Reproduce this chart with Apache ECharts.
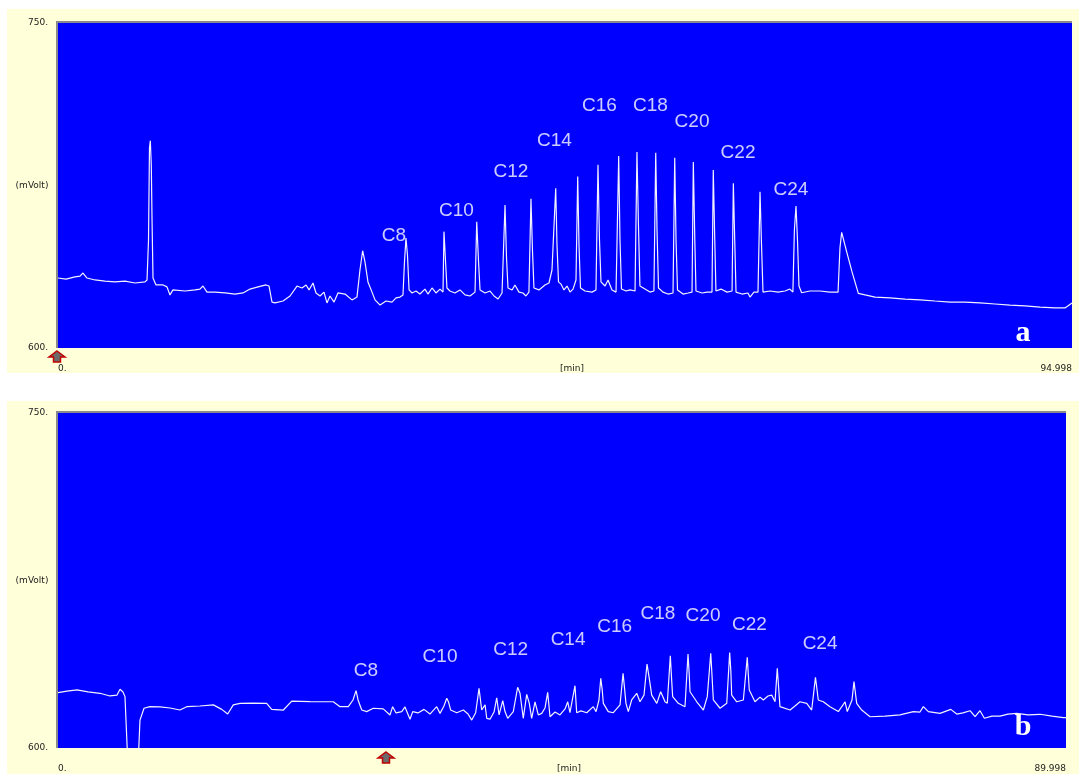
<!DOCTYPE html>
<html><head><meta charset="utf-8">
<script src="https://cdn.jsdelivr.net/npm/echarts@6/dist/echarts.min.js"></script>
<style>html,body{margin:0;padding:0;background:#fff}#c{width:1079px;height:774px}</style>
</head><body><div id="c"></div><script>
// ---- Panel a (standard) ----
const aTime = [0,0.75,1.59,2.06,2.34,2.72,3.47,4.40,5.34,6.28,7.21,8.15,8.34,8.48,8.57,8.65,8.74,8.81,8.90,9.18,9.84,10.21,10.49,10.77,11.90,12.84,13.30,13.58,13.96,14.71,15.65,16.58,17.33,17.99,18.74,19.49,19.77,20.05,20.33,21.08,21.74,22.39,22.86,23.24,23.52,23.89,24.17,24.55,24.92,25.20,25.48,25.86,26.23,26.89,27.54,28.01,28.29,28.54,28.76,29.04,29.42,29.70,30.17,30.73,31.29,31.67,32.04,32.32,32.46,32.60,32.74,32.89,33.17,33.54,33.91,
34.38,34.66,35.04,35.41,35.79,36.07,36.16,36.35,36.44,36.72,37.19,37.66,38.13,38.60,39.07,39.23,39.40,39.54,40.01,40.48,40.85,41.23,41.60,41.88,42.02,42.16,42.54,42.81,43.19,43.56,43.84,44.12,44.31,44.45,44.59,45.06,45.62,46.00,46.28,46.63,46.75,46.89,47.12,47.40,47.69,47.97,48.25,48.53,48.69,48.81,48.95,49.37,50.03,50.40,50.59,50.73,50.87,51.25,51.53,51.90,52.28,52.53,52.65,52.79,53.22,53.59,54.06,54.24,54.38,54.52,54.99,55.46,55.83,56.00,56.12,56.26,56.68,57.15,57.62,57.78,57.90,58.04,58.56,59.03,59.40,59.52,59.66,59.77,60.33,60.80,61.27,61.39,61.53,61.64,62.11,62.68,63.15,63.27,63.40,63.52,64.08,64.64,64.83,65.20,65.58,65.77,65.91,66.05,66.71,67.46,68.11,68.57,68.85,68.99,69.14,69.28,69.42,69.67,70.45,71.39,72.32,73.08,73.26,73.42,73.89,74.39,74.98,75.61,76.55,77.95,79.35,80.76,82.16,83.57,84.97,86.38,87.78,89.19,90.59,92.00,93.41,94.34,94.998];
const aSignal = [632.3,631.8,632.8,633.2,634.6,632.3,631.4,630.9,630.5,630.9,630.0,630.5,631.4,649.8,692.3,695.7,684.5,659.1,632.3,629.1,629.1,628.2,624.5,626.8,626.3,626.8,627.2,628.6,625.8,625.8,625.4,624.9,625.4,627.2,628.2,629.1,628.6,621.2,620.8,621.7,624.0,628.6,627.7,629.1,626.8,630.0,625.4,624.0,625.8,620.8,624.0,621.2,625.4,624.9,622.2,623.5,636.0,644.9,639.7,630.5,625.8,622.2,619.8,621.7,621.2,623.1,623.5,624.5,639.7,650.8,642.9,626.8,625.4,626.3,624.9,
627.2,624.9,627.7,625.4,627.2,625.8,653.7,636.0,627.7,626.3,625.4,626.8,624.5,624.0,625.8,658.3,639.7,626.8,625.4,626.3,624.0,622.6,625.4,666.0,641.5,627.7,626.8,629.1,625.8,625.4,624.0,625.8,668.9,645.2,627.7,626.8,629.1,630.0,636.0,673.7,647.5,630.5,629.5,626.8,628.6,625.8,627.2,631.4,679.1,647.5,627.7,626.3,625.8,626.8,684.6,649.8,630.5,628.6,631.4,626.8,625.8,688.6,649.8,627.2,626.3,626.8,626.3,690.5,656.8,628.6,627.2,625.8,626.3,690.1,654.5,627.7,625.8,624.9,625.4,687.8,649.8,626.8,624.9,625.4,625.8,685.8,649.8,626.3,625.4,625.8,625.8,682.2,649.8,626.3,627.2,625.8,626.3,676.0,649.8,625.8,624.9,625.4,623.5,625.8,625.8,672.1,647.5,625.8,626.3,625.8,626.3,627.2,625.8,654.5,665.5,649.8,628.6,625.5,626.3,626.3,625.8,625.8,646.2,653.4,644.4,635.1,625.2,624.5,623.5,623.1,622.6,622.2,621.7,621.2,621.2,620.8,620.3,619.8,619.4,618.9,618.5,618.5,620.8];

// ---- Panel b (sample) ----
const bTime = [0,0.80,1.70,2.68,3.75,4.64,5.27,5.54,5.80,5.98,6.22,7.17,7.32,7.68,8.21,9.11,10.00,10.89,11.49,12.68,13.87,14.62,15.15,15.65,16.25,17.41,18.63,19.08,20.12,20.87,22.50,24.58,25.18,25.92,26.34,26.61,26.79,27.12,27.56,28.15,29.04,29.64,29.88,30.18,30.69,30.98,31.43,31.67,32.14,32.68,33.21,33.81,34.11,34.46,34.71,34.87,35.06,35.60,36.19,36.61,36.94,37.29,37.59,37.83,38.13,38.28,38.57,38.93,39.17,39.38,39.71,39.91,40.15,40.65,41.04,41.25,41.54,41.85,42.08,42.29,42.59,42.88,43.19,43.48,43.72,43.93,44.38,44.82,45.27,45.51,45.71,46.16,46.31,46.70,47.21,47.79,48.04,48.30,48.46,48.59,48.69,49.13,49.58,50.18,50.45,50.58,50.71,50.92,51.22,51.67,51.96,52.32,52.59,52.79,53.01,53.46,53.81,54.20,54.40,54.67,54.79,54.88,55.38,55.98,56.25,56.36,56.43,57.03,57.62,57.97,58.28,58.39,58.51,59.11,59.71,59.97,60.07,60.15,60.60,61.19,61.54,61.72,62.23,62.68,62.97,63.39,63.72,64.02,64.22,64.46,65.36,65.80,66.25,66.85,67.29,67.50,67.63,67.77,67.88,68.33,68.93,69.67,70.09,70.27,70.47,70.89,71.07,71.31,71.76,72.50,73.84,75.18,76.37,76.96,77.26,77.71,78.75,79.71,80.24,80.80,81.43,81.88,82.32,82.71,83.39,84.11,84.82,85.60,86.61,87.68,88.75,89.76,89.998];
const bSignal = [624.8,625.5,626.0,625.1,624.5,623.3,623.7,626.3,625.1,623.0,595,595,612.5,617.8,618.5,618.4,617.9,617.0,618.5,618.8,619.3,617.3,615.2,619.3,620.0,620.1,620.0,617.3,617.0,621.0,620.8,620.7,618.5,618.5,621.5,625.7,621.5,617.0,616.3,617.8,617.5,614.8,618.5,615.7,616.3,618.4,612.9,616.3,615.7,617.3,615.2,618.5,615.5,618.8,622.3,620.6,617.0,615.8,617.0,615.2,612.5,615.8,626.7,617.0,619.3,613.3,612.9,616.1,622.5,614.8,621.2,616.3,613.3,616.3,627.2,624.5,613.3,624.0,620.0,613.3,620.7,614.8,615.5,617.9,624.9,614.0,616.1,614.8,617.5,620.7,615.8,627.9,615.8,616.6,615.8,618.5,616.3,621.5,631.2,626.0,620.0,616.3,615.8,619.3,633.4,626.9,620.0,616.3,621.5,624.5,620.7,623.7,637.6,631.2,623.7,620.0,625.2,620.7,620.0,641.3,630.4,623.0,620.0,618.5,642.1,632.7,625.2,620.7,617.0,623.0,642.4,632.7,621.5,617.8,620.0,642.7,634.9,623.7,620.7,621.5,640.6,626.0,620.7,622.8,621.5,623.3,623.7,620.7,635.7,618.5,617.0,618.8,620.7,620.0,617.0,626.0,631.7,626.0,621.5,620.7,618.5,616.3,619.3,620.7,616.3,621.5,629.7,620.0,617.0,614.0,614.3,614.8,616.3,616.1,618.5,616.3,615.5,617.3,615.2,615.7,616.7,614.0,616.7,613.3,614.3,614.3,615.2,615.5,614.8,615.1,614.3,613.6,613.6];

// ---- Peak labels ----
const peakNames = ['C8','C10','C12','C14','C16','C18','C20','C22','C24'];
const aLabelTime = [31.48,37.33,42.44,46.51,50.73,55.51,59.40,63.71,68.67];
const aLabelSignal = [651.7,663.2,681.2,695.5,711.7,711.7,704.5,690.0,672.9];
const bLabelTime = [27.5,34.11,40.42,45.54,49.71,53.57,57.59,61.74,68.04];
const bLabelSignal = [634.5,640.7,644.0,648.4,654.4,660.0,659.3,655.1,646.6];

// ---- Axis texts ----
const yTickText = {600:'600.', 750:'750.'};
const aXEnd = 94.998, bXEnd = 89.998;
const aXTicks = ['0.', '94.998'];
const bXTicks = ['0.', '89.998'];
const xName = '[min]';
const yName = '(mVolt)';
const panelTags = ['a', 'b'];

const chart = echarts.init(document.getElementById('c'), null, {renderer:'canvas'});
const labelFont = 'DejaVu Sans';
const axLbl = {fontSize:9, color:'#222', fontFamily:labelFont};

function xAxisDef(idx, end, ticks){
  return {
    gridIndex: idx, type:'value', min:0, max:end, interval:end,
    axisLine:{show:false}, axisTick:{show:false}, splitLine:{show:false},
    axisLabel: Object.assign({margin:16, alignMinLabel:'left', alignMaxLabel:'right',
      formatter: v => v === 0 ? ticks[0] : ticks[1]}, axLbl),
    name: xName, nameLocation:'middle', nameGap:16, nameMoveOverlap:false,
    nameTextStyle: Object.assign({padding:[0,0,0,14]}, axLbl)
  };
}
function yAxisDef(idx){
  return {
    gridIndex: idx, type:'value', min:600, max:750, interval:150,
    axisLine:{show:false}, axisTick:{show:false}, splitLine:{show:false},
    axisLabel: Object.assign({margin:10, formatter: v => yTickText[v] || ''}, axLbl),
    name: yName, nameLocation:'middle', nameRotate:0, nameGap:26, nameMoveOverlap:false,
    nameTextStyle: Object.assign({align:'center', verticalAlign:'middle', padding:[10,0,0,0]}, axLbl)
  };
}
function traceSeries(idx, t, s){
  return {
    type:'line', xAxisIndex:idx, yAxisIndex:idx, symbol:'none', showSymbol:false,
    clip:true, silent:true,
    lineStyle:{color:'#F2F2FF', width:1.2},
    data: t.map((x,i)=>[x, s[i]])
  };
}
function labelSeries(idx, t, s){
  return {
    type:'scatter', xAxisIndex:idx, yAxisIndex:idx, symbolSize:1, silent:true,
    itemStyle:{color:'rgba(0,0,0,0)'},
    label:{show:true, position:'inside', formatter:'{b}', color:'#ffffff',
      textBorderWidth:0, fontSize:19, fontFamily:'Liberation Sans'},
    data: peakNames.map((n,i)=>({name:n, value:[t[i], s[i]]}))
  };
}
function arrow(cx, tipY){
  return {type:'polygon', z:20, shape:{points:[
    [cx, tipY],[cx+8, tipY+6],[cx+3.5, tipY+6],[cx+3.5, tipY+11],
    [cx-3.5, tipY+11],[cx-3.5, tipY+6],[cx-8, tipY+6]]},
    style:{fill:'#6b6b6b', stroke:'#C00000', lineWidth:1.5}};
}

const option = {
  animation:false,
  backgroundColor:'#ffffff',
  grid:[
    {left:58, top:23, width:1014, height:325, show:true, backgroundColor:'#0000FF', borderWidth:0, containLabel:false, outerBoundsMode:'none'},
    {left:58, top:413, width:1008, height:335, show:true, backgroundColor:'#0000FF', borderWidth:0, containLabel:false, outerBoundsMode:'none'}
  ],
  xAxis:[xAxisDef(0, aXEnd, aXTicks), xAxisDef(1, bXEnd, bXTicks)],
  yAxis:[yAxisDef(0), yAxisDef(1)],
  series:[
    traceSeries(0, aTime, aSignal),
    traceSeries(1, bTime, bSignal),
    labelSeries(0, aLabelTime, aLabelSignal),
    labelSeries(1, bLabelTime, bLabelSignal)
  ],
  graphic:[
    {type:'rect', z:-100, shape:{x:7, y:9, width:1072, height:364}, style:{fill:'#FFFFD9'}},
    {type:'rect', z:-100, shape:{x:7, y:401, width:1072, height:373}, style:{fill:'#FFFFD9'}},
    {type:'line', z:15, shape:{x1:57, y1:22, x2:57, y2:348}, style:{stroke:'#8a8a8a', lineWidth:2}},
    {type:'line', z:15, shape:{x1:56, y1:22, x2:1072, y2:22}, style:{stroke:'#8a8a8a', lineWidth:2}},
    {type:'line', z:15, shape:{x1:57, y1:412, x2:57, y2:748}, style:{stroke:'#8a8a8a', lineWidth:2}},
    {type:'line', z:15, shape:{x1:56, y1:412, x2:1066, y2:412}, style:{stroke:'#8a8a8a', lineWidth:2}},
    arrow(57, 351),
    arrow(386, 752),
    {type:'text', z:20, x:1023, y:333, style:{text:panelTags[0], fill:'#fff',
      font:'bold 30px "Liberation Serif"', align:'center', verticalAlign:'middle'}},
    {type:'text', z:20, x:1023, y:727, style:{text:panelTags[1], fill:'#fff',
      font:'bold 30px "Liberation Serif"', align:'center', verticalAlign:'middle'}}
  ]
};
chart.setOption(option);
</script></body></html>
